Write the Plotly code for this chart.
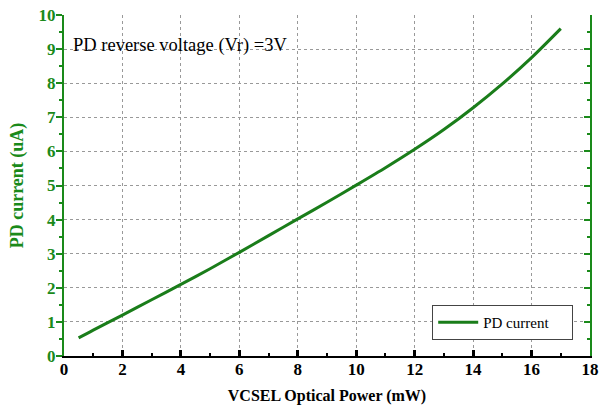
import plotly.graph_objects as go

power_mw = [0.5, 1, 2, 3, 4, 5, 6, 7, 8, 9, 10, 11, 12, 13, 14, 15, 16, 17]
pd_current_ua = [0.53, 0.76, 1.2, 1.65, 2.1, 2.56, 3.04, 3.53, 4.02, 4.51, 5.01, 5.52, 6.06, 6.64, 7.28, 7.98, 8.75, 9.6]
x_ticks = [0, 2, 4, 6, 8, 10, 12, 14, 16, 18]
y_ticks = list(range(0, 11))

GREEN = "#1a8a1a"
SERIF = "Liberation Serif"

fig = go.Figure()
fig.add_trace(go.Scatter(x=power_mw, y=pd_current_ua, mode="lines", name="PD current",
                         line=dict(color="#1a7d1a", width=3, shape="spline", smoothing=0.8)))
fig.add_trace(go.Scatter(x=[0], y=[0], yaxis="y2", mode="lines", showlegend=False,
                         hoverinfo="skip", line=dict(width=0), opacity=0))

fig.update_layout(
    width=601, height=405,
    margin=dict(l=64, r=11, t=15, b=49),
    paper_bgcolor="white", plot_bgcolor="white",
    font=dict(family=SERIF, size=14, color="black"),
    xaxis=dict(range=[0, 18], tickvals=x_ticks, ticktext=[f"<b>{v}</b>" for v in x_ticks],
               ticks="inside", ticklen=6, tickwidth=3,
               tickcolor="black", showline=True, linecolor="black", linewidth=2,
               showgrid=True, gridcolor="#999999", griddash="dot", gridwidth=1,
               zeroline=False, automargin=False, ticklabelstandoff=-3, ticklabeloverflow="allow",
               minor=dict(dtick=1, ticks="inside", ticklen=3, tickwidth=2, tickcolor="black", showgrid=False),
               tickfont=dict(family=SERIF, size=17, color="black"),
               title=dict(text="<b>VCSEL Optical Power (mW)</b>", font=dict(family=SERIF, size=16, color="black"), standoff=13)),
    yaxis=dict(range=[0, 10], tickvals=y_ticks, ticktext=[f"<b>{v}</b>" for v in y_ticks],
               ticks="outside", ticklen=6, tickwidth=2,
               tickcolor=GREEN, showline=True, linecolor=GREEN, linewidth=2,
               showgrid=True, gridcolor="#999999", griddash="dot", gridwidth=1,
               zeroline=False, automargin=False, ticklabelstandoff=-3, ticklabeloverflow="allow",
               minor=dict(dtick=0.5, ticks="outside", ticklen=3, tickwidth=2, tickcolor=GREEN, showgrid=False),
               tickfont=dict(family=SERIF, size=17, color=GREEN),
               title=dict(text="<b>PD current (uA)</b>", font=dict(family=SERIF, size=18, color=GREEN), standoff=10)),
    yaxis2=dict(range=[0, 10], overlaying="y", side="right", showticklabels=False,
                tickvals=y_ticks, ticks="inside", ticklen=6, tickwidth=2, tickcolor=GREEN,
                showline=True, linecolor=GREEN, linewidth=2, showgrid=False, zeroline=False,
                automargin=False,
                minor=dict(dtick=0.5, ticks="inside", ticklen=3, tickwidth=2, tickcolor=GREEN)),
    legend=dict(x=0.70, y=0.047, xanchor="left", yanchor="bottom", orientation="h",
                bgcolor="white", bordercolor="#444444", borderwidth=1,
                font=dict(family=SERIF, size=15, color="black"),
                itemwidth=40, entrywidth=84, entrywidthmode="pixels"),
    showlegend=True,
    annotations=[dict(x=0.014, y=0.912, xref="paper", yref="paper", xanchor="left", yanchor="middle",
                      text="PD reverse voltage (Vr) =3V", showarrow=False,
                      font=dict(family=SERIF, size=18.5, color="black"))],
)

fig.write_html("out.html", config={"displayModeBar": False},
               post_script="document.body.style.margin='0';document.body.style.overflow='hidden';")
